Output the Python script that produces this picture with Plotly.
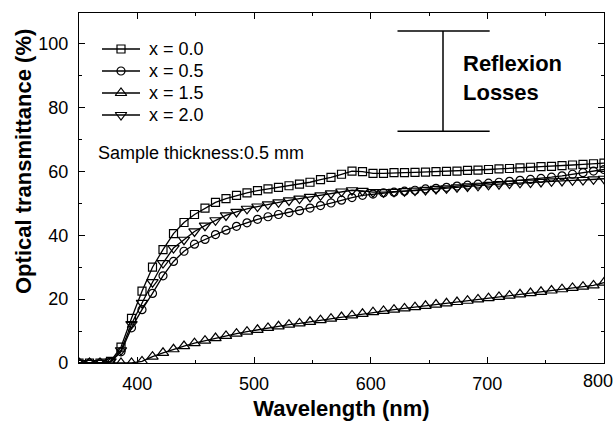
import plotly.graph_objects as go

wavelength = [350, 359, 368, 377, 386, 395, 404, 413, 422, 431, 440, 449, 458, 467, 476, 485, 494,
              503, 512, 521, 530, 539, 548, 557, 566, 575, 584, 593, 602, 611, 620, 629, 638, 647,
              656, 665, 674, 683, 692, 701, 710, 719, 728, 737, 746, 755, 764, 773, 782, 791, 800]

t_x00 = [0, 0, 0, 0.5, 5, 14, 22.5, 30, 35.5, 40.5, 44, 46.5, 48.5, 50.3, 51.5, 52.5, 53.3,
         54, 54.5, 55, 55.5, 56, 56.6, 57.4, 58.1, 59.1, 60.1, 59.9, 59.4, 59.4, 59.6, 59.6, 59.7, 59.8,
         59.9, 60, 60.1, 60.3, 60.4, 60.6, 60.8, 60.9, 61.1, 61.3, 61.5, 61.6, 61.8, 62, 62.2, 62.4, 62.6]

t_x05 = [0, 0, 0, 0.3, 3.5, 11, 16.7, 21.8, 27.3, 31.8, 35, 37.2, 38.7, 40.2, 41.6, 42.8, 43.9,
         45, 45.8, 46.5, 47.1, 47.7, 48.5, 49.3, 50.1, 51, 51.8, 52.5, 52.9, 53.3, 53.5, 53.8, 54.1, 54.5,
         54.7, 55, 55.4, 55.7, 56, 56.3, 56.6, 56.9, 57.2, 57.5, 57.8, 58.2, 58.6, 59.1, 59.6, 60.1, 60.6]

t_x15 = [0, 0, 0, 0, 0, 0, 0.5, 2, 3.2, 4.3, 5.3, 6.2, 7, 7.8, 8.5, 9.2, 9.8,
         10.4, 11, 11.5, 12, 12.4, 12.9, 13.4, 13.9, 14.4, 14.9, 15.4, 15.9, 16.3, 16.7, 17.1, 17.5, 17.9,
         18.3, 18.7, 19.1, 19.5, 19.9, 20.3, 20.7, 21.1, 21.5, 21.9, 22.3, 22.7, 23.1, 23.5, 23.9, 24.3, 25.2]

t_x20 = [0, 0, 0, 0.5, 4, 12.2, 18.8, 25.3, 31.3, 36, 38.6, 41.2, 43, 44.7, 46.2, 47.3, 48.3,
         49, 49.7, 50.3, 50.9, 51.5, 52, 52.5, 53.1, 53.7, 54.1, 53.9, 53.5, 53.5, 53.6, 53.8, 54, 54.2,
         54.5, 54.7, 55, 55.3, 55.5, 55.8, 56, 56.2, 56.4, 56.5, 56.7, 56.9, 57, 57.2, 57.3, 57.5, 57.7]

series_names = ["x = 0.0", "x = 0.5", "x = 1.5", "x = 2.0"]
series_values = [t_x00, t_x05, t_x15, t_x20]
series_symbols = ["square-open", "circle-open", "triangle-up-open", "triangle-down-open"]
series_sizes = [8, 8, 10, 10]

x_tickvals = [400, 500, 600, 700, 800]
x_ticklabels = ["400", "500", "600", "700", "800"]
y_tickvals = [0, 20, 40, 60, 80, 100]
y_ticklabels = ["0", "20", "40", "60", "80", "100"]

reflex_x = [623, 702]
reflex_mid = 662
reflex_y = [72.6, 104]

FONT = "Liberation Sans, Arial, sans-serif"
W, H = 616, 421
ML, MR, MT, MB = 79, 12, 13, 58
PW, PH = W - ML - MR, H - MT - MB


def px_to_paper(px, py):
    return (px - ML) / PW, (H - MB - py) / PH


fig = go.Figure()
for name, vals, sym, sz in zip(series_names, series_values, series_symbols, series_sizes):
    fig.add_trace(go.Scatter(
        x=wavelength, y=vals, name=name, mode="lines+markers", showlegend=False,
        line=dict(color="black", width=1.3),
        marker=dict(symbol=sym, size=sz, color="black", line=dict(width=1.2, color="black")),
    ))

# Manual legend (drawn on an overlay axis spanning the plot area in paper units)
for i, (name, sym, sz) in enumerate(zip(series_names, series_symbols, series_sizes)):
    row_py = 49 + 22 * i
    lx0, ly = px_to_paper(102, row_py)
    lx1, _ = px_to_paper(140, row_py)
    lxm, _ = px_to_paper(121, row_py)
    tx, _ = px_to_paper(147, row_py)
    fig.add_trace(go.Scatter(
        x=[lx0, lx1], y=[ly, ly], xaxis="x2", yaxis="y2", mode="lines",
        line=dict(color="black", width=1.3), showlegend=False, hoverinfo="skip"))
    fig.add_trace(go.Scatter(
        x=[lxm], y=[ly], xaxis="x2", yaxis="y2", mode="markers",
        marker=dict(symbol=sym, size=sz, color="black", line=dict(width=1.2, color="black")),
        showlegend=False, hoverinfo="skip"))
    fig.add_annotation(x=tx, y=ly, xref="paper", yref="paper", text=name, showarrow=False,
                       xanchor="left", yanchor="middle", font=dict(family=FONT, size=18, color="black"))

# Reflexion losses bar
for yv in reflex_y:
    fig.add_shape(type="line", xref="x", yref="y", x0=reflex_x[0], x1=reflex_x[1], y0=yv, y1=yv,
                  line=dict(color="black", width=1.5))
fig.add_shape(type="line", xref="x", yref="y", x0=reflex_mid, x1=reflex_mid, y0=reflex_y[0], y1=reflex_y[1],
              line=dict(color="black", width=1.5))

rx, ry1 = px_to_paper(461, 63)
_, ry2 = px_to_paper(461, 93)
fig.add_annotation(x=rx, y=ry1, xref="paper", yref="paper", text="<b>Reflexion</b>", showarrow=False,
                   xanchor="left", yanchor="middle", font=dict(family=FONT, size=22, color="black"))
fig.add_annotation(x=rx, y=ry2, xref="paper", yref="paper", text="<b>Losses</b>", showarrow=False,
                   xanchor="left", yanchor="middle", font=dict(family=FONT, size=22, color="black"))
sx, sy = px_to_paper(96, 153)
fig.add_annotation(x=sx, y=sy, xref="paper", yref="paper", text="Sample thickness:0.5 mm", showarrow=False,
                   xanchor="left", yanchor="middle", font=dict(family=FONT, size=18, color="black"))

# Y axis title placed like the reference (slightly above the plot centre)
tx_, ty_ = px_to_paper(23, 162)
fig.add_annotation(x=tx_, y=ty_, xref="paper", yref="paper", text="<b>Optical transmittance (%)</b>",
                   textangle=-90, showarrow=False, xanchor="center", yanchor="middle",
                   font=dict(family=FONT, size=22, color="black"))

# Last x tick label sits flush with the right edge, as in the reference
lx, ly_ = px_to_paper(615, 381)
fig.add_annotation(x=lx, y=ly_, xref="paper", yref="paper", text=x_ticklabels[-1], showarrow=False,
                   xanchor="right", yanchor="middle", font=dict(family=FONT, size=18, color="black"))

axis_common = dict(
    showline=True, linecolor="black", linewidth=1.3, mirror="allticks",
    ticks="inside", ticklen=6, tickwidth=1.2, tickcolor="black",
    showgrid=False, zeroline=False, automargin=False,
    tickfont=dict(family=FONT, size=18, color="black"),
)

xaxis = dict(range=[350, 800], tickmode="array", tickvals=x_tickvals,
             ticktext=x_ticklabels[:-1] + [""], ticklabelstandoff=4,
             minor=dict(dtick=50, ticks="inside", ticklen=3, tickcolor="black", tickwidth=1),
             title=dict(text="<b>Wavelength (nm)</b>", font=dict(family=FONT, size=22, color="black"), standoff=7),
             **axis_common)
yaxis = dict(range=[0, 109.6], tickmode="array", tickvals=y_tickvals, ticktext=y_ticklabels,
             ticklabelstandoff=6,
             minor=dict(dtick=10, ticks="inside", ticklen=3, tickcolor="black", tickwidth=1),
             **axis_common)

fig.update_layout(
    width=W, height=H,
    margin=dict(l=ML, r=MR, t=MT, b=MB),
    paper_bgcolor="white", plot_bgcolor="white",
    showlegend=False,
    xaxis=xaxis, yaxis=yaxis,
    xaxis2=dict(overlaying="x", range=[0, 1], visible=False, anchor="y2"),
    yaxis2=dict(overlaying="y", range=[0, 1], visible=False, anchor="x2"),
)

fig.write_html("out.html", config={"displayModeBar": False},
               post_script="document.body.style.margin='0';document.body.style.overflow='hidden';")
